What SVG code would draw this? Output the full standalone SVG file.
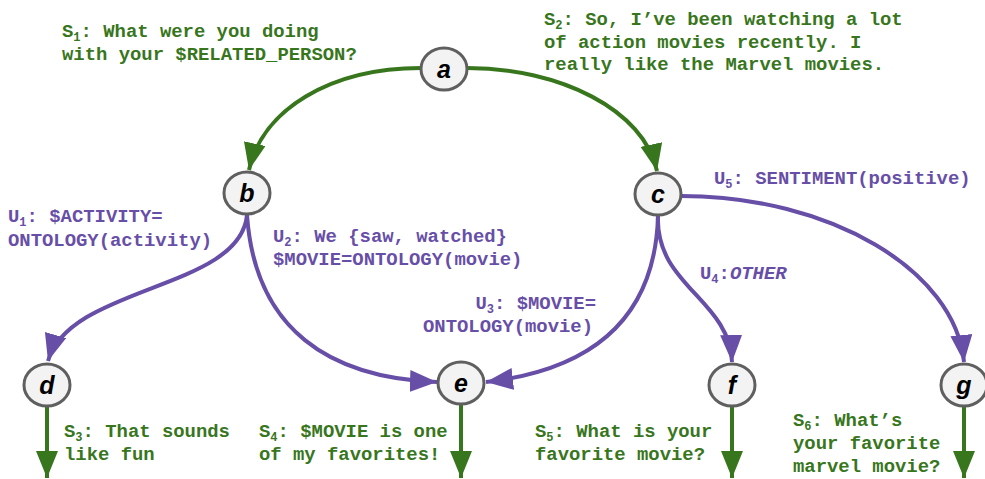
<svg xmlns="http://www.w3.org/2000/svg" width="985" height="479" viewBox="0 0 985 479">
<defs>
<style>
.node ellipse{fill:#f3f3f3;stroke:#5f5f5f;stroke-width:3}
.node text{font-family:"Liberation Sans",Arial,sans-serif;font-weight:bold;font-style:italic;font-size:25px;fill:#000;text-anchor:middle}
.g{fill:none;stroke:#38761d;stroke-width:4}
.p{fill:none;stroke:#674ea7;stroke-width:4}
.lbl{font-family:"Liberation Mono","Courier New",monospace;font-weight:bold;font-size:18.9px}
.gt{fill:#38761d}
.pt{fill:#674ea7}
.sub{font-size:12px}
</style>
<marker id="ag" markerUnits="userSpaceOnUse" markerWidth="28" markerHeight="22" refX="27" refY="11" orient="auto" viewBox="0 0 28 22">
<path d="M0,0 L27,11 L0,22 Z" fill="#38761d"/>
</marker>
<marker id="ap" markerUnits="userSpaceOnUse" markerWidth="28" markerHeight="22" refX="27" refY="11" orient="auto" viewBox="0 0 28 22">
<path d="M0,0 L27,11 L0,22 Z" fill="#674ea7"/>
</marker>
</defs>
<rect width="985" height="479" fill="#fff"/>

<g id="connectors">
<path class="g" d="M421,68 C330,68 262,110 249,170" marker-end="url(#ag)"/>
<path class="g" d="M467,68 C560,68 644,110 657,171" marker-end="url(#ag)"/>
<path class="p" d="M247,215 C240,290 70,285 48,361" marker-end="url(#ap)"/>
<path class="p" d="M247,215 C255,330 330,378 437,382" marker-end="url(#ap)"/>
<path class="p" d="M658,216 C655,320 590,370 486,382" marker-end="url(#ap)"/>
<path class="p" d="M658,216 C655,285 730,300 732,362" marker-end="url(#ap)"/>
<path class="p" d="M681,196 C830,196 955,270 964,362" marker-end="url(#ap)"/>
<path class="g" d="M47,407 L47,478" marker-end="url(#ag)"/>
<path class="g" d="M461,405 L461,478" marker-end="url(#ag)"/>
<path class="g" d="M732,407 L732,478" marker-end="url(#ag)"/>
<path class="g" d="M964,407 L964,478" marker-end="url(#ag)"/>
</g>

<g id="node-a" class="node"><ellipse cx="444" cy="69" rx="23" ry="21"/><text x="444" y="78">a</text></g>
<g id="node-b" class="node"><ellipse cx="247" cy="193" rx="23" ry="21"/><text x="247" y="202">b</text></g>
<g id="node-c" class="node"><ellipse cx="658" cy="194" rx="23" ry="21"/><text x="658" y="203">c</text></g>
<g id="node-d" class="node"><ellipse cx="47" cy="385" rx="23" ry="21"/><text x="47" y="394">d</text></g>
<g id="node-e" class="node"><ellipse cx="461" cy="383" rx="23" ry="21"/><text x="461" y="392">e</text></g>
<g id="node-f" class="node"><ellipse cx="732" cy="385" rx="23" ry="21"/><text x="732" y="394">f</text></g>
<g id="node-g" class="node"><ellipse cx="964" cy="385" rx="23" ry="21"/><text x="964" y="394">g</text></g>

<g id="labels">
<text class="lbl gt" x="62" y="37">S<tspan class="sub" dy="4">1</tspan><tspan dy="-4">: What were you doing</tspan><tspan x="62" y="60">with your $RELATED_PERSON?</tspan></text>

<text class="lbl gt" x="544" y="25">S<tspan class="sub" dy="4">2</tspan><tspan dy="-4">: So, I’ve been watching a lot</tspan><tspan x="544" y="47.5">of action movies recently. I</tspan><tspan x="544" y="70">really like the Marvel movies.</tspan></text>

<text class="lbl pt" x="8" y="222">U<tspan class="sub" dy="4">1</tspan><tspan dy="-4">: $ACTIVITY=</tspan><tspan x="8" y="246">ONTOLOGY(activity)</tspan></text>

<text class="lbl pt" x="273" y="242">U<tspan class="sub" dy="4">2</tspan><tspan dy="-4">: We {saw, watched}</tspan><tspan x="273" y="265">$MOVIE=ONTOLOGY(movie)</tspan></text>

<text class="lbl pt" text-anchor="end" x="596" y="309">U<tspan class="sub" dy="4">3</tspan><tspan dy="-4">: $MOVIE=</tspan><tspan x="593" y="332">ONTOLOGY(movie)</tspan></text>

<text class="lbl pt" x="700" y="279">U<tspan class="sub" dy="4">4</tspan><tspan dy="-4">:</tspan><tspan font-style="italic">OTHER</tspan></text>

<text class="lbl pt" x="714" y="184">U<tspan class="sub" dy="4">5</tspan><tspan dy="-4">: SENTIMENT(positive)</tspan></text>

<text class="lbl gt" x="64" y="437">S<tspan class="sub" dy="4">3</tspan><tspan dy="-4">: That sounds</tspan><tspan x="64" y="460">like fun</tspan></text>

<text class="lbl gt" x="259" y="437">S<tspan class="sub" dy="4">4</tspan><tspan dy="-4">: $MOVIE is one</tspan><tspan x="259" y="460">of my favorites!</tspan></text>

<text class="lbl gt" x="535" y="437">S<tspan class="sub" dy="4">5</tspan><tspan dy="-4">: What is your</tspan><tspan x="535" y="460">favorite movie?</tspan></text>

<text class="lbl gt" x="793" y="426">S<tspan class="sub" dy="4">6</tspan><tspan dy="-4">: What’s</tspan><tspan x="793" y="449">your favorite</tspan><tspan x="793" y="472">marvel movie?</tspan></text>
</g>
</svg>
